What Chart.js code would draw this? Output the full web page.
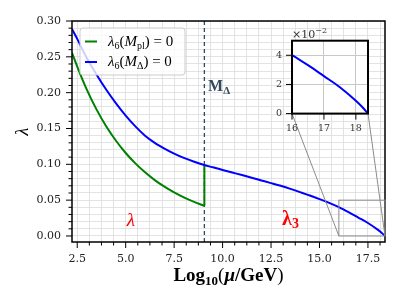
<!DOCTYPE html>
<html>
<head>
<meta charset="utf-8">
<script src="https://cdn.jsdelivr.net/npm/chart.js@4.4.0/dist/chart.umd.min.js"></script>
<style>
  body { margin: 0; background: #fff; }
  #wrap { position: relative; width: 407px; height: 305px; }
  #inset { position: absolute; left: 262px; top: 25px; }
</style>
</head>
<body>
<div id="wrap">
  <canvas id="main" width="407" height="305"></canvas>
  <canvas id="inset" width="116" height="110"></canvas>
</div>
<script>
// running of lambda below M_Delta (log10 mu)
const muLow = [2.23, 2.5, 3.0, 3.5, 4.0, 4.5, 5.0, 5.5, 6.0, 6.5, 7.0, 7.5, 8.0, 8.5, 9.06];
const lambdaGreen = [0.2556, 0.2364, 0.2039, 0.1763, 0.1528, 0.1329, 0.1158, 0.1013, 0.0888, 0.0780, 0.0688, 0.0608, 0.0539, 0.0479, 0.0421];
const lambdaBlueLow = [0.289, 0.275, 0.248, 0.225, 0.204, 0.185, 0.168, 0.153, 0.140, 0.130, 0.122, 0.115, 0.109, 0.104, 0.099];
// above M_Delta
const muHigh = [9.5, 10, 10.5, 11, 11.5, 12, 12.5, 13, 13.5, 14, 14.5, 15, 15.5, 16, 16.5, 17, 17.5, 18, 18.2, 18.38];
const lambdaBlueHigh = [0.0958, 0.0922, 0.0886, 0.0850, 0.0812, 0.0775, 0.0738, 0.0700, 0.0658, 0.0612, 0.0565, 0.0515, 0.0462, 0.0402, 0.0332, 0.0257, 0.0181, 0.0088, 0.0045, 0.0];

const mDelta = 9.06;

const xMajor = [2.5, 5.0, 7.5, 10.0, 12.5, 15.0, 17.5];
const yMajor = [0.00, 0.05, 0.10, 0.15, 0.20, 0.25, 0.30];
const insetXTicks = [16, 17, 18];
const insetYTicks = [0, 0.02, 0.04];

const serif = '"Liberation Serif", serif';
const tickFont = '"DejaVu Serif", serif';

const bluePts = muLow.map((x, i) => ({ x, y: lambdaBlueLow[i] }))
  .concat(muHigh.map((x, i) => ({ x, y: lambdaBlueHigh[i] })));
const greenPts = muLow.map((x, i) => ({ x, y: lambdaGreen[i] }));
const greenJump = [{ x: mDelta, y: lambdaGreen[lambdaGreen.length - 1] }, { x: mDelta, y: lambdaBlueLow[lambdaBlueLow.length - 1] }];

const isIn = (v, list) => list.some(m => Math.abs(m - v) < 1e-9);

function subdivide(major, n, max) {
  const step = (major[1] - major[0]) / n;
  const out = [];
  for (let v = major[0]; v <= max + 1e-9; v += step) out.push(Math.round(v * 1e6) / 1e6);
  return out;
}

function drawRuns(ctx, x, y, runs, align) {
  let total = 0;
  runs.forEach(r => { ctx.font = r.font; r.w = ctx.measureText(r.t).width; total += r.w; });
  let cx = align === 'center' ? x - total / 2 : x;
  ctx.textAlign = 'left';
  runs.forEach(r => { ctx.font = r.font; ctx.fillText(r.t, cx, y + (r.dy || 0)); cx += r.w; });
}

function tickMarks(chart, majorX, majorY, majorLen, minorLen) {
  const ctx = chart.ctx, a = chart.chartArea;
  const sx = chart.scales.x, sy = chart.scales.y;
  ctx.save();
  ctx.strokeStyle = '#000';
  ctx.lineWidth = 1;
  sx.ticks.forEach(t => {
    const px = sx.getPixelForValue(t.value);
    const len = majorX(t.value) ? majorLen : minorLen;
    ctx.beginPath(); ctx.moveTo(px, a.bottom); ctx.lineTo(px, a.bottom + len); ctx.stroke();
  });
  sy.ticks.forEach(t => {
    const py = sy.getPixelForValue(t.value);
    const len = majorY(t.value) ? majorLen : minorLen;
    ctx.beginPath(); ctx.moveTo(a.left, py); ctx.lineTo(a.left - len, py); ctx.stroke();
  });
  ctx.restore();
}

// ---- inset ----
const insetChart = new Chart(document.getElementById('inset'), {
  type: 'scatter',
  data: {
    datasets: [{
      data: bluePts.filter(p => p.x >= 15.5),
      borderColor: '#0000ff', borderWidth: 2, showLine: true, pointRadius: 0,
      cubicInterpolationMode: 'monotone'
    }]
  },
  options: {
    responsive: false, animation: false, events: [],
    layout: { padding: { top: 13, right: 10, left: 0, bottom: 0 } },
    plugins: { legend: { display: false }, tooltip: { enabled: false } },
    scales: {
      x: {
        type: 'linear', min: 16, max: 18.38,
        afterBuildTicks: s => { s.ticks = insetXTicks.map(v => ({ value: v })); },
        afterFit: s => { s.height = 21.4; },
        grid: { color: '#c8c8c8', lineWidth: 1, drawTicks: false },
        border: { display: false },
        ticks: { padding: 9, maxRotation: 0, autoSkip: false, color: '#333', font: { family: tickFont, size: 9.5 } }
      },
      y: {
        min: 0, max: 0.05,
        afterBuildTicks: s => { s.ticks = insetYTicks.map(v => ({ value: v })); },
        afterFit: s => { s.width = 30; },
        grid: { color: '#c8c8c8', lineWidth: 1, drawTicks: false },
        border: { display: false },
        ticks: { padding: 10, color: '#333', font: { family: tickFont, size: 9.5 }, callback: v => (v * 100).toFixed(0) }
      }
    }
  },
  plugins: [{
    id: 'insetDeco',
    beforeDraw(chart) {
      const a = chart.chartArea, ctx = chart.ctx;
      ctx.save(); ctx.fillStyle = '#fff';
      ctx.fillRect(a.left, a.top, a.right - a.left, a.bottom - a.top);
      ctx.restore();
    },
    afterDraw(chart) {
      const a = chart.chartArea, ctx = chart.ctx;
      tickMarks(chart, () => true, () => true, 6, 6);
      ctx.save();
      ctx.strokeStyle = '#000'; ctx.lineWidth = 2;
      ctx.strokeRect(a.left, a.top, a.right - a.left, a.bottom - a.top);
      ctx.fillStyle = '#333';
      ctx.textBaseline = 'alphabetic';
      drawRuns(ctx, a.left, a.top - 3, [
        { t: '\u00d710', font: '11px ' + tickFont },
        { t: '\u22122', font: '8px ' + tickFont, dy: -5 }
      ], 'left');
      ctx.restore();
    }
  }]
});

// ---- main chart ----
const insetLeft = 262, insetTop = 25;

const mainChart = new Chart(document.getElementById('main'), {
  type: 'scatter',
  data: {
    datasets: [
      { data: bluePts, borderColor: '#0000ff', borderWidth: 2, showLine: true, pointRadius: 0, cubicInterpolationMode: 'monotone', order: 0 },
      { data: greenPts, borderColor: '#008000', borderWidth: 2, showLine: true, pointRadius: 0, cubicInterpolationMode: 'monotone', order: 1 },
      { data: greenJump, borderColor: '#008000', borderWidth: 2, showLine: true, pointRadius: 0, order: 1 },
      { data: [{ x: mDelta, y: -0.0084 }, { x: mDelta, y: 0.30 }], borderColor: '#34495e', borderWidth: 1.3, borderDash: [4, 3], showLine: true, pointRadius: 0, order: 2 }
    ]
  },
  options: {
    responsive: false, animation: false, events: [],
    layout: { padding: { top: 21, right: 22, left: 0, bottom: 0 } },
    plugins: { legend: { display: false }, tooltip: { enabled: false } },
    scales: {
      x: {
        type: 'linear', min: 2.23, max: 18.38,
        afterBuildTicks: s => { s.ticks = subdivide(xMajor, 4, 18.38).map(v => ({ value: v })); },
        afterFit: s => { s.height = 63; },
        grid: { color: '#dcdcdc', lineWidth: 0.8, drawTicks: false },
        border: { display: false },
        ticks: {
          padding: 11, maxRotation: 0, autoSkip: false, color: '#222',
          font: { family: tickFont, size: 11 },
          callback: v => isIn(v, xMajor) ? v.toFixed(1) : ''
        }
      },
      y: {
        min: -0.0084, max: 0.30,
        afterBuildTicks: s => { s.ticks = subdivide(yMajor, 5, 0.30).map(v => ({ value: v })); },
        afterFit: s => { s.width = 72; },
        grid: { color: '#dcdcdc', lineWidth: 0.8, drawTicks: false },
        border: { display: false },
        ticks: {
          padding: 11, autoSkip: false, color: '#222',
          font: { family: tickFont, size: 11 },
          callback: v => isIn(v, yMajor) ? v.toFixed(2) : ''
        }
      }
    }
  },
  plugins: [{
    id: 'mainDeco',
    afterDraw(chart) {
      const a = chart.chartArea, ctx = chart.ctx;
      const sx = chart.scales.x, sy = chart.scales.y;
      tickMarks(chart, v => isIn(v, xMajor), v => isIn(v, yMajor), 6, 3.5);

      ctx.save();
      // frame
      ctx.strokeStyle = '#000'; ctx.lineWidth = 1.5;
      ctx.strokeRect(a.left, a.top, a.right - a.left, a.bottom - a.top);

      // zoom box and connectors
      const rx0 = sx.getPixelForValue(16), rx1 = sx.getPixelForValue(18.38);
      const ry0 = sy.getPixelForValue(0), ry1 = sy.getPixelForValue(0.05);
      ctx.strokeStyle = '#8c8c8c'; ctx.lineWidth = 1;
      ctx.strokeRect(rx0, ry1, rx1 - rx0, ry0 - ry1);
      const ia = insetChart.chartArea;
      ctx.beginPath();
      ctx.moveTo(insetLeft + ia.left, insetTop + ia.bottom); ctx.lineTo(rx0, ry0);
      ctx.moveTo(insetLeft + ia.right, insetTop + ia.bottom); ctx.lineTo(rx1, ry0);
      ctx.stroke();

      // legend
      const lx = 80, ly = 28, lw = 105, lh = 47;
      ctx.fillStyle = 'rgba(255,255,255,0.8)';
      ctx.strokeStyle = '#cccccc';
      ctx.beginPath(); ctx.roundRect(lx, ly, lw, lh, 3); ctx.fill(); ctx.stroke();
      ctx.lineWidth = 2;
      ctx.strokeStyle = '#008000';
      ctx.beginPath(); ctx.moveTo(85, 41.5); ctx.lineTo(97, 41.5); ctx.stroke();
      ctx.strokeStyle = '#0000ff';
      ctx.beginPath(); ctx.moveTo(85, 62); ctx.lineTo(97, 62); ctx.stroke();
      ctx.fillStyle = '#000';
      ctx.textBaseline = 'alphabetic';
      const it = 'italic 15px ' + serif, rm = '15px ' + serif, sb = '10px ' + serif;
      drawRuns(ctx, 108, 46, [
        { t: '\u03bb', font: it }, { t: '6', font: sb, dy: 3 }, { t: '(', font: rm },
        { t: 'M', font: it }, { t: 'pl', font: sb, dy: 3 }, { t: ')', font: rm }, { t: ' = 0', font: rm }
      ], 'left');
      drawRuns(ctx, 108, 66, [
        { t: '\u03bb', font: it }, { t: '6', font: sb, dy: 3 }, { t: '(', font: rm },
        { t: 'M', font: it }, { t: '\u0394', font: sb, dy: 3 }, { t: ')', font: rm }, { t: ' = 0', font: rm }
      ], 'left');

      // M_Delta label
      ctx.fillStyle = '#34495e';
      drawRuns(ctx, sx.getPixelForValue(9.25), sy.getPixelForValue(0.2025), [
        { t: 'M', font: 'bold 16px ' + serif }, { t: '\u0394', font: 'bold 11px ' + serif, dy: 3 }
      ], 'left');

      // region labels
      ctx.fillStyle = '#ff0000';
      drawRuns(ctx, sx.getPixelForValue(5.05), sy.getPixelForValue(0.014), [
        { t: '\u03bb', font: 'italic 19px ' + serif }
      ], 'left');
      drawRuns(ctx, sx.getPixelForValue(13.07), sy.getPixelForValue(0.015), [
        { t: '\u03bb', font: 'bold 20px ' + serif }, { t: '3', font: 'bold 14px ' + serif, dy: 3 }
      ], 'left');

      // axis titles
      ctx.fillStyle = '#000';
      drawRuns(ctx, (a.left + a.right) / 2, 281, [
        { t: 'Log', font: 'bold 19px ' + serif }, { t: '10', font: 'bold 13px ' + serif, dy: 4 },
        { t: '(', font: '19px ' + serif }, { t: '\u03bc', font: 'bold italic 19px ' + serif },
        { t: '/GeV', font: 'bold 19px ' + serif }, { t: ')', font: '19px ' + serif }
      ], 'center');
      ctx.translate(23, (a.top + a.bottom) / 2);
      ctx.rotate(-Math.PI / 2);
      ctx.textBaseline = 'middle';
      drawRuns(ctx, 0, 0, [{ t: '\u03bb', font: 'italic 18px ' + serif }], 'center');
      ctx.restore();
    }
  }]
});
</script>
</body>
</html>
